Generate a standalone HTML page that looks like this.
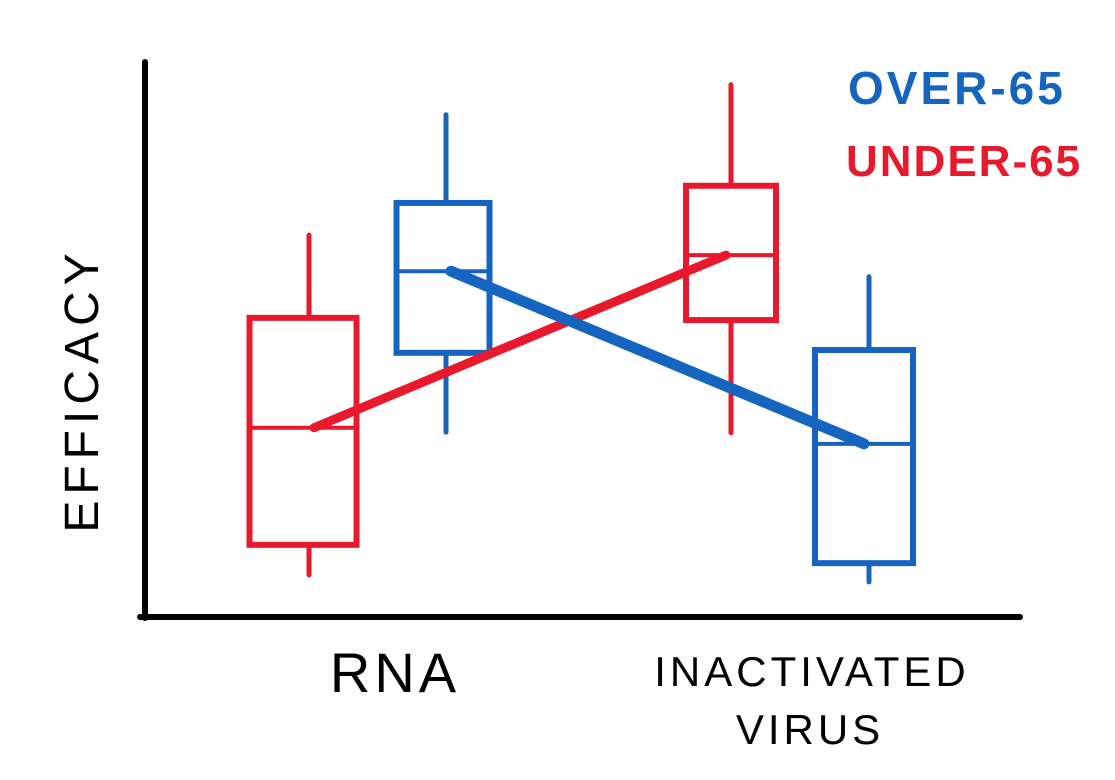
<!DOCTYPE html>
<html><head><meta charset="utf-8"><style>
html,body{margin:0;padding:0;background:#fff;width:1115px;height:780px;overflow:hidden}
svg text{font-family:"Liberation Sans",sans-serif}
</style></head><body>
<svg id="chart" width="1115" height="780" viewBox="0 0 1115 780" xmlns="http://www.w3.org/2000/svg">
<line x1="145" y1="62" x2="145" y2="618" stroke="#000" stroke-width="6" stroke-linecap="round"/>
<line x1="140" y1="617" x2="1020" y2="617" stroke="#000" stroke-width="6" stroke-linecap="round"/>
<text transform="translate(98,390) rotate(-90)" text-anchor="middle" font-size="48" letter-spacing="6" fill="#000">EFFICACY</text>
<text x="395" y="692" text-anchor="middle" font-size="56" letter-spacing="4" fill="#000">RNA</text>
<text x="812" y="686" text-anchor="middle" font-size="42" letter-spacing="4" fill="#000">INACTIVATED</text>
<text x="810" y="744" text-anchor="middle" font-size="42" letter-spacing="4" fill="#000">VIRUS</text>
<text x="848" y="104" font-size="46" font-weight="bold" letter-spacing="3" fill="#1565c0">OVER-65</text>
<text x="846" y="176" font-size="44" font-weight="bold" letter-spacing="2" fill="#e8192c">UNDER-65</text>
<g id="marks"></g>
</svg>
<script>
const categories = ["RNA", "INACTIVATED VIRUS"];
const seriesNames = ["under-65", "over-65"];
const under65Min = [7.6, 33.2];
const under65Q1 = [13.0, 53.5];
const under65Median = [34.1, 65.2];
const under65Q3 = [53.9, 77.7];
const under65Max = [68.8, 95.9];
const over65Min = [33.3, 6.3];
const over65Q1 = [47.6, 9.7];
const over65Median = [62.3, 31.2];
const over65Q3 = [74.6, 48.1];
const over65Max = [90.5, 61.3];

const NS = "http://www.w3.org/2000/svg";
const g = document.getElementById("marks");
function yScale(v){ return 617 - v * 5.55; }
function xScale(i, s){ return [[309, 446],[731, 869]][i][s]; }
const colors = ["#e8192c", "#1565c0"];
const boxW = [[107, 93],[90, 98]];
const boxOff = [[-6, -3],[0, -5]];
function line(x1,y1,x2,y2,c,w,name){
  const l = document.createElementNS(NS,"line");
  l.setAttribute("x1",x1);l.setAttribute("y1",y1);l.setAttribute("x2",x2);l.setAttribute("y2",y2);
  l.setAttribute("stroke",c);l.setAttribute("stroke-width",w);l.setAttribute("stroke-linecap","round");
  
  
  g.appendChild(l);
}
const data = [
  [under65Min, under65Q1, under65Median, under65Q3, under65Max],
  [over65Min, over65Q1, over65Median, over65Q3, over65Max]
];
for (let s=0;s<2;s++){
  for (let i=0;i<categories.length;i++){
    const [mn,q1,md,q3,mx] = data[s].map(a=>a[i]);
    const cx = xScale(i,s), bx = cx + boxOff[i][s], hw = boxW[i][s]/2, c = colors[s];
    line(cx,yScale(mx),cx,yScale(q3),c,5,"whisker-upper");
    line(cx,yScale(q1),cx,yScale(mn),c,5,"whisker-lower");
    const r = document.createElementNS(NS,"rect");
    r.setAttribute("x",bx-hw);r.setAttribute("y",yScale(q3));
    r.setAttribute("width",2*hw);r.setAttribute("height",yScale(q1)-yScale(q3));
    r.setAttribute("fill","none");r.setAttribute("stroke",c);r.setAttribute("stroke-width",6);
    
    
    g.appendChild(r);
    line(bx-hw,yScale(md),bx+hw,yScale(md),c,4,"median-" + seriesNames[s]);
  }
}
for (let s=0;s<2;s++){
  const md = data[s][2];
  line(xScale(0,s)+5,yScale(md[0]),xScale(1,s)-5,yScale(md[1]),colors[s],s===1?11:9,"trend-line-" + seriesNames[s]);
}
</script>
</body></html>
